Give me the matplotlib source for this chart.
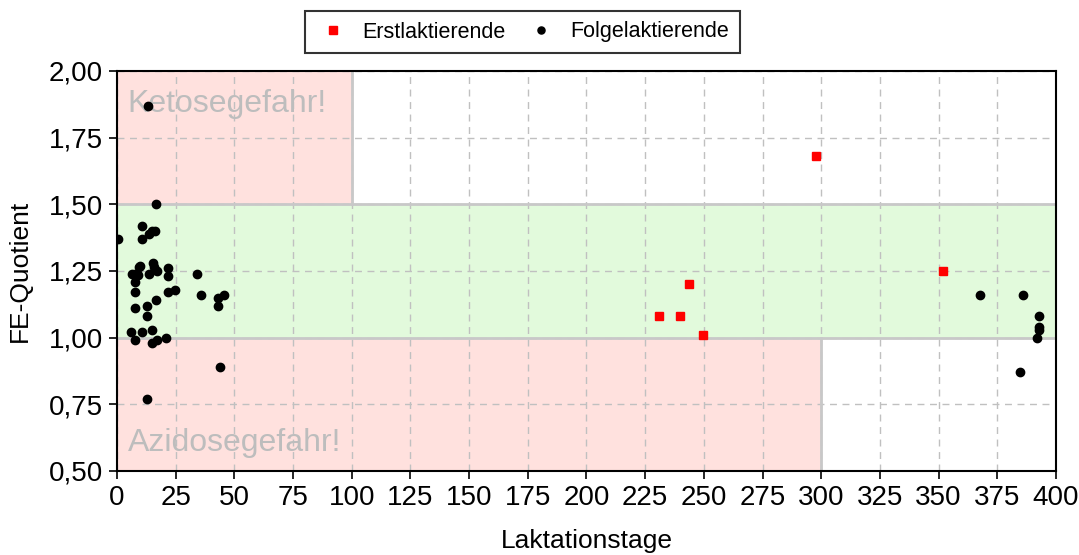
import numpy as np
import matplotlib.pyplot as plt
from matplotlib.ticker import FuncFormatter

plt.rcParams['font.family'] = ['Liberation Sans', 'DejaVu Sans']

#%% Daten

erst_tage = [230.9, 239.8, 243.8, 249.8, 297.8, 351.7]
erst_fe = [1.08, 1.08, 1.20, 1.01, 1.68, 1.25]

folge_tage = [0.3, 10.8, 13.6, 15.0, 16.3, 10.8, 16.6, 13.4,
              6.5, 7.7, 9.0, 9.8, 9.2, 13.6, 15.3, 15.8, 16.9, 21.9, 21.9,
              7.7, 7.7, 21.6, 24.7, 33.9, 35.8, 42.9, 45.7, 42.9, 16.6,
              12.8, 7.7, 12.8, 5.8, 10.8, 14.8, 7.7, 14.8, 16.9, 20.7,
              43.7, 12.8,
              367.8, 385.8, 392.8, 392.8, 392.8, 391.8, 384.7]
folge_fe = [1.37, 1.42, 1.39, 1.40, 1.40, 1.37, 1.50, 1.87,
            1.24, 1.24, 1.235, 1.27, 1.265, 1.24, 1.28, 1.265, 1.25, 1.26, 1.23,
            1.21, 1.17, 1.17, 1.18, 1.24, 1.16, 1.15, 1.16, 1.12, 1.14,
            1.12, 1.11, 1.08, 1.02, 1.02, 1.03, 0.99, 0.98, 0.99, 1.00,
            0.89, 0.77,
            1.16, 1.16, 1.08, 1.04, 1.03, 1.00, 0.87]

xticks = np.arange(0, 401, 25)
yticks = [0.5, 0.75, 1.0, 1.25, 1.5, 1.75, 2.0]

#%% Plot

fig = plt.figure(figsize=(10.79, 5.55), dpi=100)
ax = fig.add_axes([0.1084, 0.1514, 0.8703, 0.7207])

rosa = '#ffe1de'
gruen = '#e2fadc'
rand = '#c8c8c8'

ax.axhspan(1.0, 1.5, xmin=0, xmax=1, color=gruen, zorder=0, lw=0)
ax.fill_between([0, 100], 1.5, 2.0, color=rosa, zorder=0, lw=0)
ax.fill_between([0, 300], 0.5, 1.0, color=rosa, zorder=0, lw=0)

ax.plot([0, 400], [1.5, 1.5], color=rand, lw=2, zorder=1)
ax.plot([0, 400], [1.0, 1.0], color=rand, lw=2, zorder=1)
ax.plot([100, 100], [1.5, 2.0], color=rand, lw=2, zorder=1)
ax.plot([300, 300], [0.5, 1.0], color=rand, lw=2, zorder=1)

ax.text(4.5, 1.876, 'Ketosegefahr!', fontsize=23, color='#bdbdbd',
        va='center', ha='left', zorder=2)
ax.text(4.5, 0.605, 'Azidosegefahr!', fontsize=23, color='#bdbdbd',
        va='center', ha='left', zorder=2)

ax.plot(erst_tage, erst_fe, 's', color='red', ms=6, label='Erstlaktierende', zorder=4)
ax.plot(folge_tage, folge_fe, 'o', color='black', ms=6, label='Folgelaktierende', zorder=4)

ax.set_xlim(0, 400)
ax.set_ylim(0.5, 2.0)
ax.set_xticks(xticks)
ax.set_yticks(yticks)
ax.yaxis.set_major_formatter(FuncFormatter(lambda v, p: f'{v:.2f}'.replace('.', ',')))
ax.grid(True, ls=(0, (5, 4)), color='#c0c0c0', lw=1, zorder=1)
ax.set_axisbelow(True)
ax.tick_params(labelsize=20, length=6, width=1.2, direction='out', pad=4)
for s in ax.spines.values():
    s.set_linewidth(1.5)

ax.set_xlabel('Laktationstage', fontsize=19, labelpad=13)
ax.set_ylabel('FE-Quotient', fontsize=19, labelpad=12)

leg = fig.legend(loc='center', bbox_to_anchor=(522.5/1079, 1 - 32/555), ncol=2,
                 fontsize=15.5, frameon=True, fancybox=False, edgecolor='black',
                 handlelength=1.6, handletextpad=0.56, columnspacing=0.88,
                 borderpad=0.5, markerscale=0.85)
leg.get_frame().set_linewidth(1.5)

plt.savefig('out.png', dpi=100)
